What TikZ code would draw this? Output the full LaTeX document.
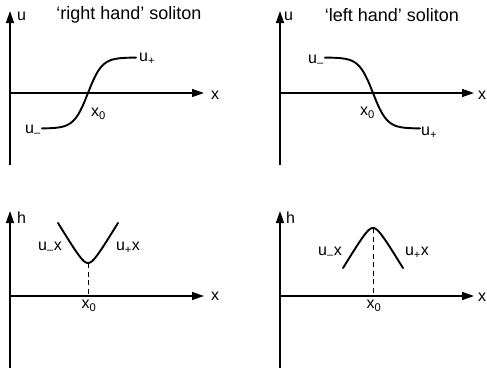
\documentclass[tikz,border=0pt]{standalone}
\usepackage{fontspec}
\setmainfont{Liberation Sans}
\usetikzlibrary{arrows.meta}
\newcommand\sbs[1]{\textsubscript{#1}}
\tikzset{
  axis/.style={line width=1.4pt,-{Triangle[length=12pt,width=8pt]}},
  curve/.style={line width=1.9pt,line join=round,line cap=round},
  guide/.style={line width=1pt,dash pattern=on 5pt off 3.5pt},
  lbl/.style={inner sep=0pt,font=\fontsize{16}{18}\selectfont},
  ttl/.style={inner sep=0pt,font=\fontsize{18}{20}\selectfont}
}
\begin{document}
\begin{tikzpicture}[x=1pt,y=-1pt]
\useasboundingbox (0,0) rectangle (487,372);
% ---------- panel 1 ----------
\coordinate (a1b) at (10,165); \coordinate (a1t) at (10,11);
\coordinate (a1l) at (10,93);  \coordinate (a1r) at (204,93);
\draw[axis] (a1b) -- (a1t);
\draw[axis] (a1l) -- (a1r);
\draw[curve] plot[smooth,samples=60,domain=42:136] (\x,{93-35.5*tanh((\x-88)/14)});
\node[ttl] (t1) at (129,15) {‘right hand’ soliton};
\node[lbl,anchor=west] (u1) at (17,16) {u};
\node[lbl] (x1) at (215,95) {x};
\node[lbl,anchor=west] (up1) at (139,59) {u\sbs{+}};
\node[lbl,anchor=east] (um1) at (41,131) {u\sbs{–}};
\node[lbl,anchor=west] (x01) at (91,114) {x\sbs{0}};
% ---------- panel 2 ----------
\coordinate (a2b) at (280,165); \coordinate (a2t) at (280,11);
\coordinate (a2l) at (280,93);  \coordinate (a2r) at (474,93);
\draw[axis] (a2b) -- (a2t);
\draw[axis] (a2l) -- (a2r);
\draw[curve] plot[smooth,samples=60,domain=325:420] (\x,{93+35.5*tanh((\x-373)/14)});
\node[ttl] (t2) at (392,15) {‘left hand’ soliton};
\node[lbl,anchor=west] (u2) at (284,16) {u};
\node[lbl,anchor=west] (x2) at (478,95) {x};
\node[lbl,anchor=east] (um2) at (324,61) {u\sbs{–}};
\node[lbl,anchor=west] (up2) at (421,133) {u\sbs{+}};
\node[lbl,anchor=east] (x02) at (375,113) {x\sbs{0}};
% ---------- panel 3 ----------
\coordinate (a3b) at (10,368); \coordinate (a3t) at (10,211);
\coordinate (a3l) at (10,296); \coordinate (a3r) at (204,296);
\draw[axis] (a3b) -- (a3t);
\draw[axis] (a3l) -- (a3r);
\draw[curve] plot[smooth,samples=61,domain=58:118] (\x,{263-(sqrt(11.25*11.25+(1.67*(\x-88))^2)-11.25)});
\coordinate (v3) at (88,263); \coordinate (b3) at (88,296);
\draw[guide] (v3) -- (b3);
\node[lbl,anchor=west] (h3) at (17,218) {h};
\node[lbl] (x3) at (215,296) {x};
\node[lbl] (umx3) at (50,248) {u\sbs{–}x};
\node[lbl] (upx3) at (128,248) {u\sbs{+}x};
\node[lbl] (x03) at (89,306) {x\sbs{0}};
% ---------- panel 4 ----------
\coordinate (a4b) at (280,368); \coordinate (a4t) at (280,211);
\coordinate (a4l) at (280,296); \coordinate (a4r) at (474,296);
\draw[axis] (a4b) -- (a4t);
\draw[axis] (a4l) -- (a4r);
\draw[curve] plot[smooth,samples=61,domain=343:403] (\x,{228+(sqrt(11.25*11.25+(1.67*(\x-373))^2)-11.25)});
\coordinate (v4) at (373,228); \coordinate (b4) at (373,296);
\draw[guide] (v4) -- (b4);
\node[lbl,anchor=west] (h4) at (286,218) {h};
\node[lbl,anchor=west] (x4) at (478,297) {x};
\node[lbl] (umx4) at (330,253) {u\sbs{–}x};
\node[lbl] (upx4) at (417,253) {u\sbs{+}x};
\node[lbl] (x04) at (374,306) {x\sbs{0}};
\end{tikzpicture}
\end{document}
